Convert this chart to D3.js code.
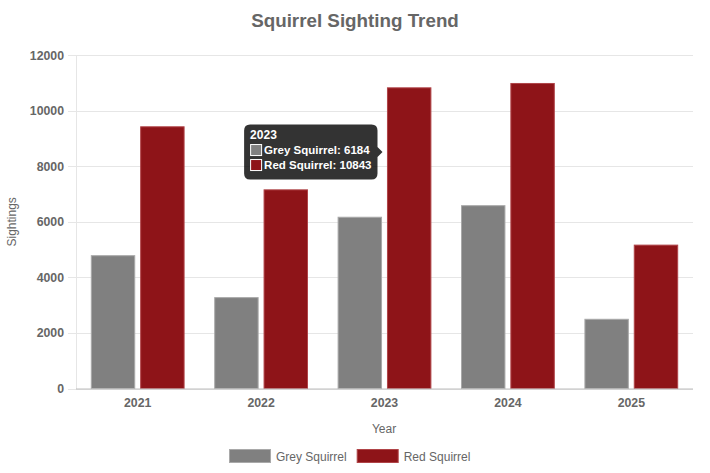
<!DOCTYPE html>
<html>
<head>
<meta charset="utf-8">
<script src="https://cdn.jsdelivr.net/npm/d3@7"></script>
<style>
  html, body { margin: 0; padding: 0; background: #fff; }
  svg { display: block; font-family: "Liberation Sans", Arial, sans-serif; }
</style>
</head>
<body>
<svg id="chart" width="710" height="473"></svg>
<script>
const years = ["2021", "2022", "2023", "2024", "2025"];
const seriesNames = ["Grey Squirrel", "Red Squirrel"];
const greyValues = [4800, 3290, 6184, 6600, 2510];
const redValues = [9440, 7170, 10843, 11000, 5180];
const yTicks = [0, 2000, 4000, 6000, 8000, 10000, 12000];
const seriesColors = ["#808080", "#8e1418"];
const seriesBorders = ["#a9a9a9", "#b04448"];
const tooltipYear = "2023";

(function () {
const svg = d3.select("#chart");
const pLeft = 76, pRight = 693, pTop = 55.2, pBottom = 388.5;

const x0 = d3.scaleBand().domain(years).range([pLeft, pRight]).padding(0);
const W = x0.bandwidth();
const x1 = d3.scaleBand().domain(seriesNames).range([0.1 * W, 0.9 * W]).paddingInner(0.1).paddingOuter(0.05);
const y = d3.scaleLinear().domain([0, 12000]).range([pBottom, pTop]);

const values = [greyValues, redValues];
const data = years.map((yr, i) => ({ year: yr, vals: seriesNames.map((s, j) => ({ series: s, j, value: values[j][i] })) }));

// title
svg.append("text").attr("x", 355).attr("y", 26.5).attr("text-anchor", "middle")
  .attr("font-size", 18.8).attr("font-weight", "bold").attr("fill", "#666").text("Squirrel Sighting Trend");

// grid + y axis
const yAxis = d3.axisLeft(y).tickValues(yTicks).tickSize(pRight - pLeft + 8).tickPadding(4).tickFormat(d3.format("d"));
const gy = svg.append("g").attr("transform", `translate(${pRight},0)`).call(yAxis);
gy.select(".domain").remove();
gy.selectAll(".tick line").attr("stroke", "#e6e6e6").attr("shape-rendering", "crispEdges");
gy.selectAll(".tick text").attr("fill", "#666").attr("font-size", 12.3).attr("font-weight", "bold")
  .attr("font-family", "Liberation Sans, Arial, sans-serif");

// vertical y axis line
svg.append("line").attr("x1", pLeft + 0.5).attr("x2", pLeft + 0.5).attr("y1", pTop).attr("y2", pBottom + 0.5)
  .attr("stroke", "#e6e6e6");

// bars
const groups = svg.append("g").selectAll("g").data(data).join("g")
  .attr("transform", d => `translate(${x0(d.year)},0)`);
groups.selectAll("rect").data(d => d.vals).join("rect")
  .attr("x", d => x1(d.series) + 0.5)
  .attr("y", d => y(d.value) + 0.5)
  .attr("width", x1.bandwidth() - 1)
  .attr("height", d => pBottom - y(d.value) - 0.5)
  .attr("fill", d => seriesColors[d.j])
  .attr("stroke", d => seriesBorders[d.j])
  .attr("stroke-width", 1);

// x axis
const xAxis = d3.axisBottom(x0).tickSize(0).tickPadding(10);
const gx = svg.append("g").attr("transform", `translate(0,${pBottom})`).call(xAxis);
gx.select(".domain").attr("stroke", "#bdbdbd").attr("d", `M${pLeft},0.5H${pRight}`);
gx.selectAll(".tick text").attr("fill", "#666").attr("font-size", 12.3).attr("font-weight", "bold")
  .attr("font-family", "Liberation Sans, Arial, sans-serif");

// axis titles
svg.append("text").attr("x", 384).attr("y", 433).attr("text-anchor", "middle")
  .attr("font-size", 12).attr("fill", "#666").text("Year");
svg.append("text").attr("transform", `translate(16,${(pTop + pBottom) / 2}) rotate(-90)`)
  .attr("text-anchor", "middle").attr("font-size", 12).attr("fill", "#666").text("Sightings");

// legend
const legend = svg.append("g");
let lx = 229;
seriesNames.forEach((s, j) => {
  legend.append("rect").attr("x", lx + 0.5).attr("y", 449.5).attr("width", 41).attr("height", 13)
    .attr("fill", seriesColors[j]).attr("stroke", seriesBorders[j]);
  const t = legend.append("text").attr("x", lx + 47).attr("y", 460.5).attr("font-size", 12)
    .attr("fill", "#666").text(s);
  lx += 47 + t.node().getComputedTextLength() + 10;
});

// tooltip
const ti = years.indexOf(tooltipYear);
const tipVals = values.map(v => v[ti]);
const caretX = x0(tooltipYear) + W / 2 - 2;
const caretY = d3.mean(tipVals, v => y(v));
const tip = svg.append("g");
const lines = seriesNames.map((s, j) => `${s}: ${tipVals[j]}`);
const tmp = tip.append("text").attr("font-size", 11.5).attr("font-weight", "bold");
let maxW = 0;
lines.forEach(l => { tmp.text(l); maxW = Math.max(maxW, tmp.node().getComputedTextLength()); });
tmp.remove();
const boxW = 6 + 14 + maxW + 6;
const boxH = 55;
const bx = caretX - 5 - boxW, by = caretY - boxH / 2;
tip.append("path")
  .attr("d", () => {
    const r = 6, x = bx, yy = by, w = boxW, h = boxH;
    return `M${x + r},${yy}H${x + w - r}Q${x + w},${yy} ${x + w},${yy + r}` +
      `V${caretY - 5}L${caretX},${caretY}L${x + w},${caretY + 5}` +
      `V${yy + h - r}Q${x + w},${yy + h} ${x + w - r},${yy + h}H${x + r}Q${x},${yy + h} ${x},${yy + h - r}V${yy + r}Q${x},${yy} ${x + r},${yy}Z`;
  })
  .attr("fill", "rgba(0,0,0,0.8)");
tip.append("text").attr("x", bx + 6).attr("y", by + 14).attr("font-size", 12).attr("font-weight", "bold")
  .attr("fill", "#fff").text(tooltipYear);
lines.forEach((l, j) => {
  const ly = by + 29.5 + j * 15;
  tip.append("rect").attr("x", bx + 6.5).attr("y", ly - 9.5).attr("width", 11).attr("height", 11)
    .attr("fill", seriesColors[j]).attr("stroke", "#fff").attr("stroke-width", 1);
  tip.append("text").attr("x", bx + 20).attr("y", ly).attr("font-size", 11.5).attr("font-weight", "bold")
    .attr("fill", "#fff").text(l);
});
})();
</script>
</body>
</html>
